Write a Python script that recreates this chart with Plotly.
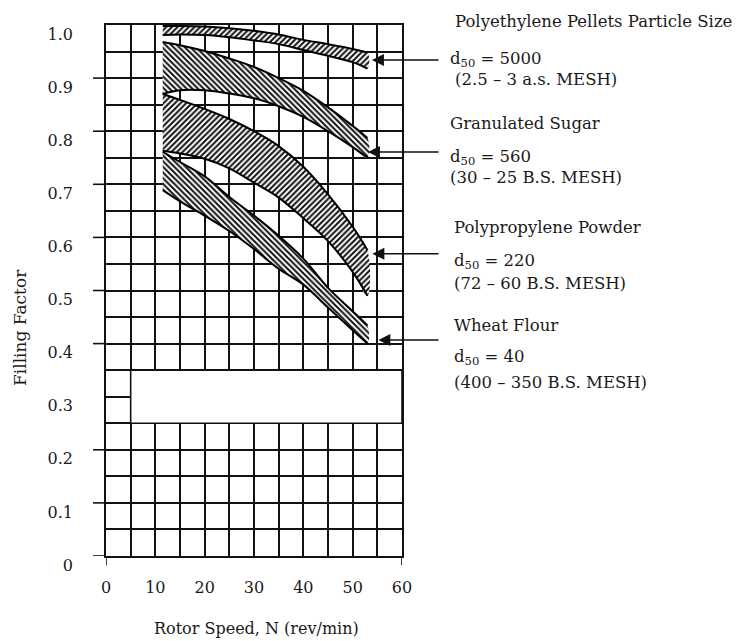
import plotly.graph_objects as go

# ---- data ----
speed = [11.5, 15, 20, 25, 30, 35, 40, 45, 50, 53]

pe_upper = [0.998, 0.998, 0.997, 0.994, 0.989, 0.982, 0.972, 0.964, 0.955, 0.948]
pe_lower = [0.981, 0.982, 0.981, 0.977, 0.971, 0.964, 0.953, 0.942, 0.930, 0.918]

sugar_upper = [0.968, 0.962, 0.951, 0.937, 0.921, 0.900, 0.876, 0.845, 0.810, 0.787]
sugar_lower = [0.870, 0.877, 0.877, 0.871, 0.862, 0.847, 0.827, 0.800, 0.770, 0.750]

pp_upper = [0.870, 0.859, 0.842, 0.823, 0.800, 0.772, 0.733, 0.681, 0.620, 0.576]
pp_lower = [0.763, 0.758, 0.748, 0.730, 0.703, 0.675, 0.636, 0.593, 0.535, 0.490]

flour_upper = [0.761, 0.742, 0.715, 0.676, 0.641, 0.603, 0.560, 0.505, 0.461, 0.434]
flour_lower = [0.689, 0.668, 0.641, 0.612, 0.578, 0.541, 0.511, 0.468, 0.425, 0.400]

x_tick_vals = [0, 10, 20, 30, 40, 50, 60]
x_tick_text = ["0", "10", "20", "30", "40", "50", "60"]
y_tick_vals = [0, 0.1, 0.2, 0.3, 0.4, 0.5, 0.6, 0.7, 0.8, 0.9, 1.0]
y_tick_text = ["0", "0.1", "0.2", "0.3", "0.4", "0.5", "0.6", "0.7", "0.8", "0.9", "1.0"]
y_major_marks = [0, 0.1, 0.2, 0.4, 0.5, 0.6, 0.7, 0.8, 0.9]
x_major_marks = [0, 60]

arrow_x = [53.9, 53.1, 54.0, 55.2]
arrow_y = [0.934, 0.761, 0.569, 0.407]

label_blocks = [
    ["Polyethylene Pellets Particle Size", "d<sub>50</sub> = 5000", "(2.5 – 3 a.s. MESH)"],
    ["Granulated Sugar", "d<sub>50</sub> = 560", "(30 – 25 B.S. MESH)"],
    ["Polypropylene Powder", "d<sub>50</sub> = 220", "(72 – 60 B.S. MESH)"],
    ["Wheat Flour", "d<sub>50</sub> = 40", "(400 – 350 B.S. MESH)"],
]

FONT = "DejaVu Serif"
INK = "#1a1a1a"
GRID = "#111"
L, R, T, B = 106, 402, 25, 556          # plot area in pixels
PXW = (R - L) / 60.0

bands = [
    (pe_upper, pe_lower, "/"),
    (sugar_upper, sugar_lower, "\\"),
    (pp_upper, pp_lower, "/"),
    (flour_upper, flour_lower, "\\"),
]

fig = go.Figure()
for up, lo, pat in bands:
    fig.add_trace(go.Scatter(
        x=speed + speed[::-1], y=up + lo[::-1], mode="lines",
        fill="toself", line=dict(width=0, color="rgba(0,0,0,0)", shape="spline"),
        fillcolor="white",
        fillpattern=dict(shape=pat, size=4, solidity=0.5, fgcolor="#111",
                         bgcolor="white", fillmode="replace"),
        hoverinfo="skip", showlegend=False))
    for edge in (up, lo):
        fig.add_trace(go.Scatter(x=speed, y=edge, mode="lines",
                                 line=dict(color="#000", width=2, shape="spline"),
                                 hoverinfo="skip", showlegend=False))

# blank box in the grid
fig.add_shape(type="rect", xref="x", yref="y", x0=5, x1=60, y0=0.25, y1=0.35,
              fillcolor="white", line=dict(color=GRID, width=1.6), layer="above")

# outside tick marks
for v in y_major_marks:
    fig.add_shape(type="line", xref="x domain", yref="y", x0=-0.044, x1=0, y0=v, y1=v,
                  line=dict(color=GRID, width=1.6))
for v in x_major_marks:
    fig.add_shape(type="line", xref="x", yref="y domain", x0=v, x1=v, y0=-0.018, y1=0,
                  line=dict(color=GRID, width=1.6))

# arrows (tail at a fixed pixel column right of the plot)
for xa, ya in zip(arrow_x, arrow_y):
    tip_px = L + xa * PXW
    fig.add_annotation(x=xa, y=ya, xref="x", yref="y", text="", showarrow=True,
                       ax=440 - tip_px, ay=0, axref="pixel", ayref="pixel",
                       arrowhead=2, arrowsize=1.6, arrowwidth=1.5, arrowcolor="#111")

# label blocks (pixel rows converted to paper coordinates)
block_rows = [[22, 55, 80], [123, 153, 177], [227, 257, 283], [326, 353, 382]]
block_x = [[453, 448, 453], [448, 448, 448], [452, 452, 452], [452, 452, 452]]
for lines, rows, xs in zip(label_blocks, block_rows, block_x):
    for i, (t, r, xp) in enumerate(zip(lines, rows, xs)):
        yr = r + (4 if i == 1 else 0)
        fig.add_annotation(x=(xp - L) / (R - L), y=(B - yr) / (B - T), xref="paper", yref="paper",
                           text=t, showarrow=False, xanchor="left", yanchor="middle",
                           font=dict(family=FONT, size=16.5, color=INK))

fig.add_annotation(x=(256 - L) / (R - L), y=(B - 628) / (B - T), xref="paper", yref="paper",
                   text="Rotor Speed, N (rev/min)", showarrow=False,
                   xanchor="center", yanchor="middle", font=dict(family=FONT, size=16, color=INK))
fig.add_annotation(x=(20 - L) / (R - L), y=(B - 328) / (B - T), xref="paper", yref="paper",
                   text="Filling Factor", showarrow=False, textangle=-90,
                   xanchor="center", yanchor="middle", font=dict(family=FONT, size=17, color=INK))

fig.update_layout(
    width=736, height=641,
    margin=dict(l=L, r=736 - R, t=T, b=641 - B, autoexpand=False),
    paper_bgcolor="white", plot_bgcolor="white",
    font=dict(family=FONT, size=16, color=INK),
    showlegend=False,
)
fig.update_xaxes(range=[0, 60], tickmode="array", tickvals=x_tick_vals, ticktext=x_tick_text,
                 showgrid=True, gridcolor=GRID, gridwidth=1.6, zeroline=False,
                 minor=dict(tick0=0, dtick=5, showgrid=True, gridcolor=GRID, gridwidth=1.6, ticks=""),
                 showline=True, mirror=True, linecolor=GRID, linewidth=1.6, automargin=False,
                 ticks="", ticklabelstandoff=16, tickfont=dict(size=16))
fig.update_yaxes(range=[0, 1], tickmode="array", tickvals=y_tick_vals, ticktext=y_tick_text,
                 showgrid=True, gridcolor=GRID, gridwidth=1.6, zeroline=False,
                 minor=dict(tick0=0, dtick=0.05, showgrid=True, gridcolor=GRID, gridwidth=1.6, ticks=""),
                 showline=True, mirror=True, linecolor=GRID, linewidth=1.6, automargin=False,
                 ticks="", ticklabelstandoff=28, ticklabelshift=9, tickfont=dict(size=16))

fig.write_html("out.html", config={"displayModeBar": False},
               post_script="document.body.style.margin='0px';")
